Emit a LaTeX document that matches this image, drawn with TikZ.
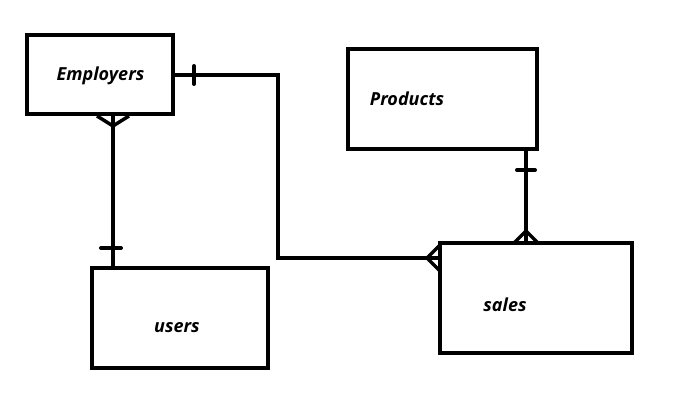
\documentclass[tikz,border=0pt]{standalone}
\usepackage{fontspec}
\setmainfont{Open Sans}
\begin{document}
\begin{tikzpicture}[x=1pt,y=-1pt,line width=4pt,
  lbl/.style={font=\fontsize{18}{20}\selectfont\bfseries\itshape},
  conn/.style={line join=miter,line cap=butt},
  tick/.style={line cap=round,line width=4pt}]
\useasboundingbox (0,0) rectangle (697,411);
% entities
\draw (27,35) rectangle (173,114);
\coordinate (empR) at (173,75.5);
\coordinate (empB) at (113,114);
\draw (92,268) rectangle (268,368);
\coordinate (usrT) at (113,268);
\draw (348,49) rectangle (537,149);
\coordinate (prdB) at (526,149);
\draw (440,243) rectangle (632,353);
\coordinate (salT) at (526,243);
\coordinate (salL) at (440,258);
\node[lbl] (emp) at (100.5,76) {Employers};
\node[lbl] (usr) at (177,328) {users};
\node[lbl] (prd) at (407,99) {Products};
\node[lbl] (sal) at (505,305) {sales};
% connectors
\draw[conn] (empR) -- (278,75.5) coordinate (c1) -- (278,258) coordinate (c2) -- (salL);
\draw (empB) -- (usrT);
\draw (prdB) -- (salT);
% ticks
\draw[tick] (194,66) -- (194,84);
\draw[tick] (101,248) -- (121,248);
\draw[tick] (517,170) -- (535,170);
% crow's feet
\draw[line width=3.5pt] (97,116) -- (113,126) -- (129,116);
\draw[line width=3.5pt] (514,243) -- (526,231) -- (538,243);
\draw[line width=3.5pt] (440,245) -- (427,258) -- (440,271);
\end{tikzpicture}
\end{document}
